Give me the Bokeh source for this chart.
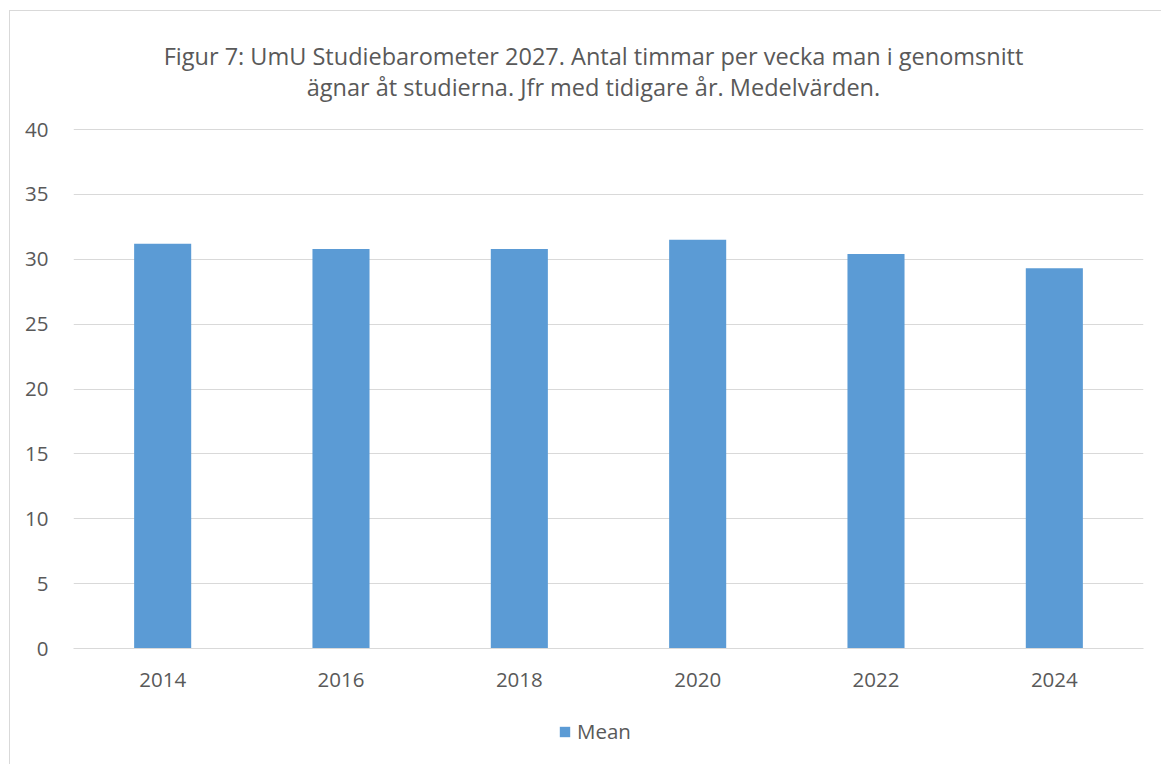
from bokeh.plotting import figure
from bokeh.layouts import column
from bokeh.models import Range1d, FactorRange, SingleIntervalTicker, Label, Legend, LegendItem, ColumnDataSource
from bokeh.embed import file_html
from bokeh.resources import INLINE

years = ["2014", "2016", "2018", "2020", "2022", "2024"]
mean_hours = [31.2, 30.8, 30.8, 31.5, 30.4, 29.3]
series_name = "Mean"
title_line1 = "Figur 7: UmU Studiebarometer 2027. Antal timmar per vecka man i genomsnitt"
title_line2 = "ägnar åt studierna. Jfr med tidigare år. Medelvärden."

FONT = "Open Sans"
TXT = "#595959"
GRID = "#d9d9d9"
BAR = "#5B9BD5"
W = 1151


def blank(height):
    f = figure(x_range=Range1d(0, 1), y_range=Range1d(0, 1), width=W, height=height,
               output_backend="svg", toolbar_location=None, min_border=0,
               x_axis_location=None, y_axis_location=None, title=None)
    f.outline_line_color = None
    f.grid.grid_line_color = None
    return f


# title strip (frame aligned with the chart frame by the column)
tf = blank(101)
for txt, yy in ((title_line1, 57), (title_line2, 26)):
    tf.add_layout(Label(x=520, y=yy, x_units="screen", y_units="screen", text=txt,
                        text_align="center", text_baseline="alphabetic", text_font=FONT,
                        text_font_size="23.5px", text_color=TXT))

# main chart
src = ColumnDataSource(dict(year=years, mean=mean_hours))
p = figure(x_range=FactorRange(*years), y_range=Range1d(0, 40.08),
           width=W, height=593, output_backend="svg", toolbar_location=None,
           min_border_left=63, min_border_right=18, min_border_top=16, min_border_bottom=57,
           title=None)
p.outline_line_color = None
p.background_fill_color = "white"
p.border_fill_color = "white"

r = p.vbar(x="year", top="mean", width=0.32, source=src, fill_color=BAR, line_color=None)

p.yaxis.ticker = SingleIntervalTicker(interval=5)
p.yaxis.axis_line_color = None
p.yaxis.major_tick_line_color = None
p.yaxis.minor_tick_line_color = None
p.yaxis.major_label_standoff = 19
p.yaxis.major_label_text_font = FONT
p.yaxis.major_label_text_font_size = "20.5px"
p.yaxis.major_label_text_color = TXT

p.xaxis.axis_line_color = GRID
p.xaxis.axis_line_width = 1
p.xaxis.major_tick_line_color = None
p.xaxis.minor_tick_line_color = None
p.xaxis.major_label_standoff = 18
p.xaxis.major_label_text_font = FONT
p.xaxis.major_label_text_font_size = "20.5px"
p.xaxis.major_label_text_color = TXT

p.xgrid.grid_line_color = None
p.ygrid.grid_line_color = GRID
p.ygrid.grid_line_width = 1

# legend strip below the chart
lg = blank(59)
# legend proxy: a zero-height bar, so only its legend swatch shows
proxy = ColumnDataSource(dict(x=[0.5], top=[0.0]))
lr = lg.vbar(x="x", top="top", width=0.1, source=proxy, fill_color=BAR, line_color=None)
legend = Legend(items=[LegendItem(label=series_name, renderers=[lr])], orientation="horizontal",
                location=(485, 19), border_line_color=None, background_fill_alpha=0,
                label_text_font=FONT, label_text_font_size="20.5px", label_text_color=TXT,
                glyph_width=13, glyph_height=13, label_standoff=6, padding=0, margin=0)
lg.add_layout(legend, "center")

layout = column(tf, p, lg, spacing=0,
                styles={"margin-left": "9px", "margin-top": "10px",
                        "border-left": "1px solid #d9d9d9", "border-top": "1px solid #d9d9d9"})

open("out.html", "w").write(file_html(layout, INLINE))
